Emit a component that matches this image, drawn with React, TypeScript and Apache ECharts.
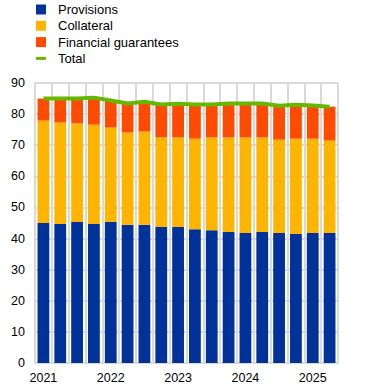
import React, { useEffect, useRef } from "react";
import * as echarts from "echarts";

const categories = [
  "2021 Q1", "2021 Q2", "2021 Q3", "2021 Q4",
  "2022 Q1", "2022 Q2", "2022 Q3", "2022 Q4",
  "2023 Q1", "2023 Q2", "2023 Q3", "2023 Q4",
  "2024 Q1", "2024 Q2", "2024 Q3", "2024 Q4",
  "2025 Q1", "2025 Q2",
];
const provisions = [45.0, 44.7, 45.3, 44.7, 45.3, 44.4, 44.4, 43.7, 43.7, 43.0, 42.7, 42.1, 41.8, 42.1, 41.8, 41.5, 41.8, 41.8];
const collateral = [32.9, 32.6, 31.7, 31.9, 30.4, 29.7, 30.0, 28.8, 28.8, 29.1, 29.8, 30.4, 30.7, 30.4, 30.0, 30.6, 30.3, 29.7];
const financialGuarantees = [7.1, 7.7, 8.0, 8.7, 8.7, 9.3, 9.6, 10.6, 10.8, 11.0, 10.6, 10.9, 10.9, 10.9, 10.9, 10.9, 10.7, 10.9];
const total = [85.0, 85.0, 85.0, 85.3, 84.4, 83.4, 84.0, 83.1, 83.3, 83.1, 83.1, 83.4, 83.4, 83.4, 82.7, 83.0, 82.8, 82.4];
const yTicks = { min: 0, max: 90, interval: 10 };

const COLORS = { blue: "#003299", yellow: "#FFB400", orange: "#FF4B00", green: "#65B800" };
const GRID = "#d9d9d9";
const FONT = "Arial, 'Liberation Sans', sans-serif";

export default function App() {
  const ref = useRef<HTMLDivElement>(null);
  useEffect(() => {
    if (!ref.current) return;
    const chart = echarts.init(ref.current, undefined, { renderer: "svg" });
    chart.setOption({
      animation: false,
      textStyle: { fontFamily: FONT },
      legend: {
        orient: "vertical",
        left: 36,
        top: 3,
        padding: 0,
        itemWidth: 10,
        itemHeight: 10,
        itemGap: 3.3,
        textStyle: { fontSize: 13, color: "#000", fontFamily: FONT, padding: [0, 0, 0, 7] },
        data: [
          { name: "Provisions", icon: "rect" },
          { name: "Collateral", icon: "rect" },
          { name: "Financial guarantees", icon: "rect" },
          { name: "Total", icon: "path://M0,0 M0,3.5 L10,3.5 L10,6.5 L0,6.5 Z M10,10" },
        ],
      },
      grid: { left: 35, right: 33, top: 83, bottom: 27 },
      xAxis: {
        type: "category",
        data: categories,
        boundaryGap: true,
        axisLine: { show: true, lineStyle: { color: GRID, width: 2 } },
        axisTick: { show: false },
        splitLine: { show: true, interval: 0, lineStyle: { color: GRID, width: 2 } },
        axisLabel: {
          interval: 0,
          margin: 8,
          fontSize: 12.5,
          color: "#000",
          fontFamily: FONT,
          formatter: (v: string) => (v.endsWith("Q1") ? v.slice(0, 4) : ""),
        },
      },
      yAxis: {
        type: "value",
        min: yTicks.min,
        max: yTicks.max,
        interval: yTicks.interval,
        axisLine: { show: true, lineStyle: { color: GRID, width: 2 } },
        axisTick: { show: false },
        splitLine: { show: true, lineStyle: { color: GRID, width: 2 } },
        axisLabel: { margin: 10, fontSize: 12.5, color: "#000", fontFamily: FONT },
      },
      series: [
        {
          name: "Provisions",
          type: "bar",
          stack: "s",
          data: provisions,
          barCategoryGap: "30%",
          itemStyle: { color: COLORS.blue },
        },
        {
          name: "Collateral",
          type: "bar",
          stack: "s",
          data: collateral,
          itemStyle: { color: COLORS.yellow },
        },
        {
          name: "Financial guarantees",
          type: "bar",
          stack: "s",
          data: financialGuarantees,
          itemStyle: { color: COLORS.orange },
        },
        {
          name: "Total",
          type: "line",
          data: total,
          symbol: "none",
          z: 5,
          lineStyle: { color: COLORS.green, width: 4 },
          itemStyle: { color: COLORS.green },
        },
      ],
    });
    return () => chart.dispose();
  }, []);
  return (
    <div
      ref={ref}
      style={{ position: "fixed", left: 0, top: 0, width: 371, height: 390, background: "#fff" }}
    />
  );
}
